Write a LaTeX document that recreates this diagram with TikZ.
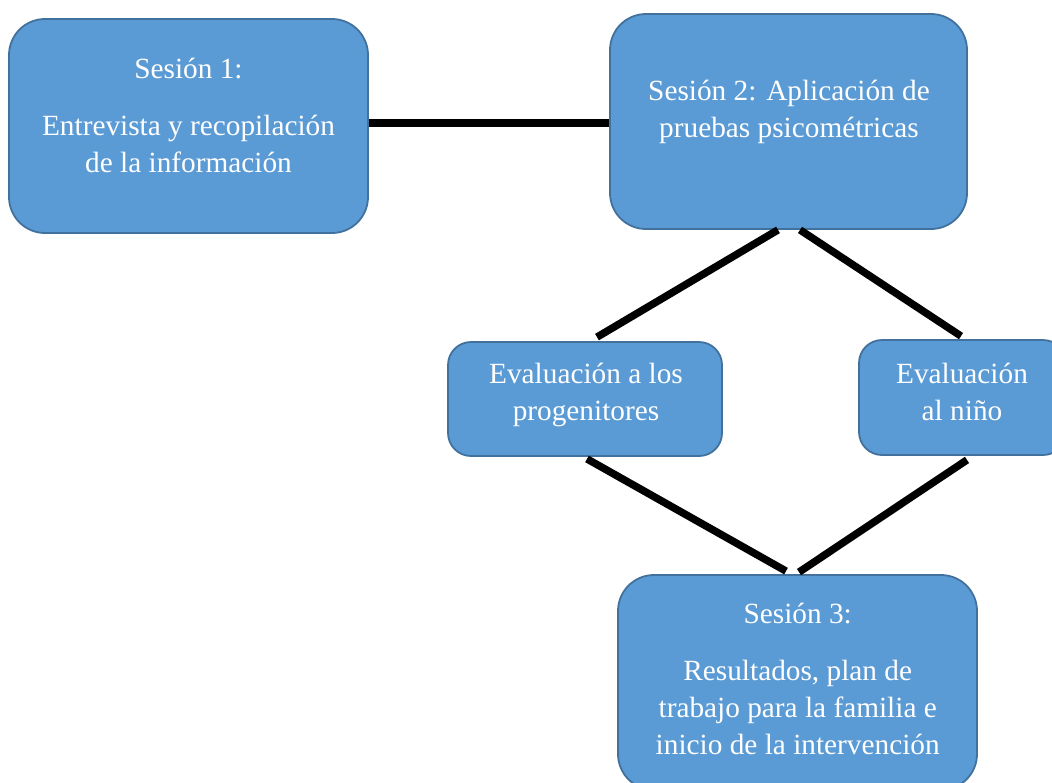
\documentclass[tikz,border=0pt]{standalone}
\usepackage{fontspec}
\setmainfont{Liberation Serif}
\usetikzlibrary{calc}
\definecolor{boxfill}{HTML}{5B9BD5}
\definecolor{boxline}{HTML}{41719C}
\begin{document}
\begin{tikzpicture}[x=1pt,y=-1pt,
  stage/.style={draw=boxline, line width=1.8pt, fill=boxfill, rounded corners=36pt, inner sep=0pt},
  smallstage/.style={stage, rounded corners=23pt},
  caption/.style={text=white, align=center, inner sep=0pt, font=\fontsize{29.3}{37}\selectfont},
  link/.style={line width=7.5pt, black, line cap=butt}]
\clip (0,0) rectangle (1052,782);

% session boxes
\node[stage, minimum width=359pt, minimum height=214pt] (s1) at (188.5,126) {};
\node[stage, minimum width=357pt, minimum height=215pt] (s2) at (788.5,121.5) {};
\node[smallstage, minimum width=274pt, minimum height=114pt] (e1) at (585,399) {};
\node[smallstage, minimum width=207pt, minimum height=115pt] (e2) at (962.5,397.5) {};
\node[stage, minimum width=359pt, minimum height=215pt] (s3) at (797.5,682.5) {};

% box texts
\node[caption] (t1) at (188.5,115) {Sesión 1:\\[20pt]Entrevista y recopilación\\de la información};
\node[caption] (t2) at (789,111.7) {Sesión 2: Aplicación de\\pruebas psicométricas};
\node[caption] (t3) at (586,394.7) {Evaluación a los\\progenitores};
\node[caption] (t4) at (962,391.5) {Evaluación\\al niño};
\node[caption] (t5) at (797.7,678.5) {Sesión 3:\\[20pt]Resultados, plan de\\trabajo para la familia e\\inicio de la intervención};

% connectors
\draw[link] ($(s1.east)+(0,-3)$) -- ($(s2.west)+(0,1.5)$);
\draw[link] ($(s2.south)+(-10.5,0)$) -- ($(e1.north)+(12,-4)$);
\draw[link] ($(s2.south)+(11.5,0)$) -- ($(e2.north)+(-1.5,-3)$);
\draw[link] ($(e1.south)+(2,2)$) -- ($(s3.north)+(-11.5,-3)$);
\draw[link] ($(e2.south)+(4.5,4)$) -- ($(s3.north)+(1.5,-2)$);
\end{tikzpicture}
\end{document}
